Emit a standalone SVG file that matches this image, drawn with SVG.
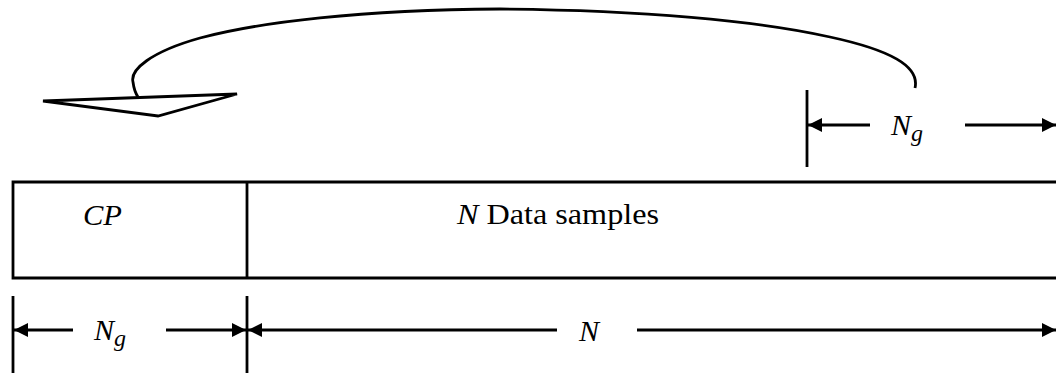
<svg xmlns="http://www.w3.org/2000/svg" width="1056" height="373" viewBox="0 0 1056 373">
<defs>
<style>
.ln{stroke:#000;stroke-width:2.8;fill:none}
.ah{fill:#000;stroke:none}
.t{font-family:'Liberation Serif','Times New Roman',Tinos,serif;font-size:30px;fill:#000}
.i{font-style:italic}
</style>
<marker id="arr" viewBox="0 0 14 14" refX="14" refY="7" markerWidth="14" markerHeight="14" markerUnits="userSpaceOnUse" orient="auto">
<path d="M0,0 L14,7 L0,14 Z" class="ah"/>
</marker>
</defs>
<rect width="1056" height="373" fill="#fff"/>
<g id="frame">
<path class="ln" d="M1058,182 H13 V278 H1058"/>
<line class="ln" x1="247" y1="182" x2="247" y2="278"/>
</g>
<g id="cp">
<text class="t i" x="83" y="225" textLength="39" lengthAdjust="spacingAndGlyphs">CP</text>
</g>
<g id="data">
<text class="t" x="457" y="224" textLength="202" lengthAdjust="spacingAndGlyphs"><tspan class="i">N</tspan> Data samples</text>
</g>
<g id="ticks">
<line class="ln" x1="13" y1="296" x2="13" y2="373"/>
<line class="ln" x1="247" y1="296" x2="247" y2="373"/>
<line class="ln" x1="807" y1="90" x2="807" y2="167"/>
</g>
<g id="labels">
<text class="t i" x="94" y="340">N<tspan font-size="24" dy="6">g</tspan></text>
<text class="t i" x="579" y="341">N</text>
<text class="t i" x="891" y="135">N<tspan font-size="24" dy="6">g</tspan></text>
</g>
<g id="connectors">
<line class="ln" x1="73" y1="330" x2="14" y2="330" marker-end="url(#arr)"/>
<line class="ln" x1="166" y1="330" x2="246" y2="330" marker-end="url(#arr)"/>
<line class="ln" x1="557" y1="330" x2="248" y2="330" marker-end="url(#arr)"/>
<line class="ln" x1="637" y1="330" x2="1056" y2="330" marker-end="url(#arr)"/>
<line class="ln" x1="870" y1="125" x2="808" y2="125" marker-end="url(#arr)"/>
<line class="ln" x1="965" y1="125" x2="1056" y2="125" marker-end="url(#arr)"/>
<path class="ln" d="M915,88 C920,66 890,50 830,37 C760,21 640,10 500,9 C360,10 260,22 200,38 C150,52 130,70 133,82 C134,90 136,94 138,97"/>
<path class="ln" stroke-linejoin="miter" d="M43,101 L237,94 L158,116 Z"/>
</g>
</svg>
